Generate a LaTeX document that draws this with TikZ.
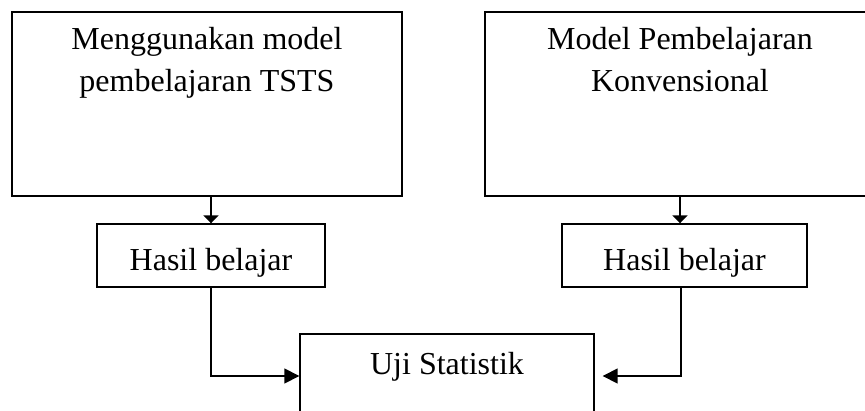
\documentclass[tikz,border=0pt]{standalone}
\usepackage{fontspec}
\setmainfont{Liberation Serif}
\usetikzlibrary{arrows.meta}

\begin{document}
\begin{tikzpicture}[x=1pt,y=-1pt,
    bigbox/.style={draw,line width=1.8pt,minimum width=390pt,minimum height=184pt,inner sep=0pt},
    smallbox/.style={draw,line width=1.4pt,minimum width=228pt,minimum height=63pt,inner sep=0pt},
    ujibox/.style={draw,line width=1.4pt,minimum width=294pt,minimum height=84pt,inner sep=0pt},
    txt/.style={font=\fontsize{32}{42}\selectfont,align=center,inner sep=0pt},
    arr/.style={line width=1.6pt,-{Triangle[length=15pt,width=15pt]}},
    downarr/.style={line width=1.8pt,-{Triangle[length=8pt,width=15pt]}}]
    \clip (0,0) rectangle (865,410);
    % kotak atas
    \node[bigbox] (tsts) at (207,104) {};
    \node[txt,anchor=north] (tstsText) at ([yshift=-16pt]tsts.north) {Menggunakan model\\pembelajaran TSTS};
    \node[bigbox] (konv) at (680,104) {};
    \node[txt,anchor=north] (konvText) at ([yshift=-16pt]konv.north) {Model Pembelajaran\\Konvensional};
    % hasil belajar
    \node[smallbox] (hasilA) at (211,255.5) {};
    \node[txt,anchor=base] (hasilAText) at ([yshift=-47pt]hasilA.north) {Hasil belajar};
    \node[smallbox,minimum width=245pt] (hasilB) at (684.5,255.5) {};
    \node[txt,anchor=base] (hasilBText) at ([yshift=-47pt]hasilB.north) {Hasil belajar};
    % uji statistik
    \node[ujibox] (uji) at (447,376) {};
    \node[txt,anchor=base] (ujiText) at ([yshift=-41pt]uji.north) {Uji Statistik};
    % panah
    \draw[downarr] (tsts.south -| hasilA.north) -- (hasilA.north);
    \draw[downarr] (konv.south) -- (konv.south |- hasilB.north);
    \draw[arr] (hasilA.south) |- (uji.west);
    \draw[arr,shorten >=8pt] ([xshift=-3.5pt]hasilB.south) |- (uji.east);
\end{tikzpicture}
\end{document}
